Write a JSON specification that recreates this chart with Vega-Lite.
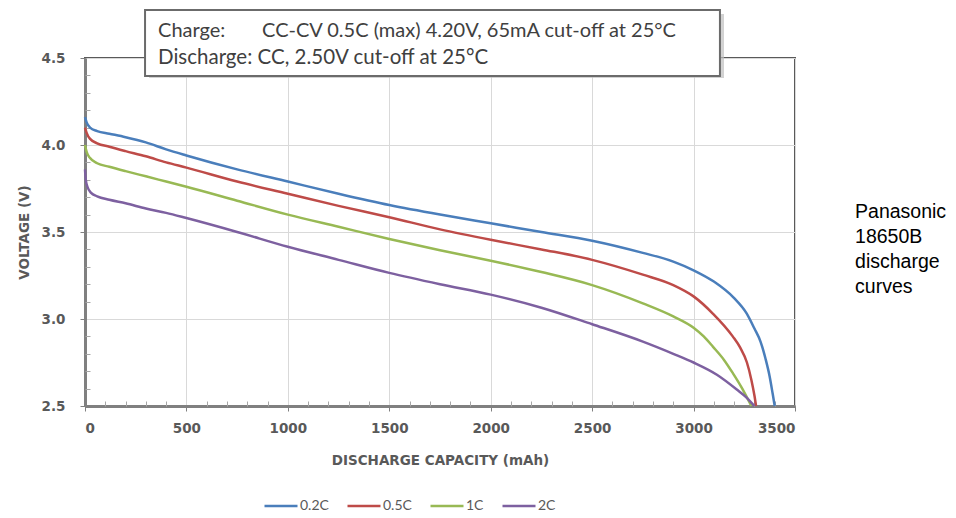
{
  "$schema": "https://vega.github.io/schema/vega-lite/v6.json",
  "width": 710,
  "height": 348,
  "autosize": {"type": "none"},
  "padding": {"left": 85, "top": 58, "right": 161, "bottom": 112},
  "background": "white",
  "config": {"view": {"stroke": "#595959", "strokeWidth": 2}, "font": "Lato"},
  "datasets": {
    "curves": [
      {"rate": "0.2C", "capacity": 0, "voltage": 4.16},
      {"rate": "0.2C", "capacity": 8, "voltage": 4.13},
      {"rate": "0.2C", "capacity": 25, "voltage": 4.1},
      {"rate": "0.2C", "capacity": 60, "voltage": 4.08},
      {"rate": "0.2C", "capacity": 120, "voltage": 4.065},
      {"rate": "0.2C", "capacity": 200, "voltage": 4.045},
      {"rate": "0.2C", "capacity": 300, "voltage": 4.015},
      {"rate": "0.2C", "capacity": 400, "voltage": 3.975},
      {"rate": "0.2C", "capacity": 500, "voltage": 3.94},
      {"rate": "0.2C", "capacity": 750, "voltage": 3.86},
      {"rate": "0.2C", "capacity": 1000, "voltage": 3.79},
      {"rate": "0.2C", "capacity": 1250, "voltage": 3.72},
      {"rate": "0.2C", "capacity": 1500, "voltage": 3.655},
      {"rate": "0.2C", "capacity": 1750, "voltage": 3.6},
      {"rate": "0.2C", "capacity": 2000, "voltage": 3.55},
      {"rate": "0.2C", "capacity": 2250, "voltage": 3.5},
      {"rate": "0.2C", "capacity": 2500, "voltage": 3.45},
      {"rate": "0.2C", "capacity": 2750, "voltage": 3.38},
      {"rate": "0.2C", "capacity": 2900, "voltage": 3.33},
      {"rate": "0.2C", "capacity": 3000, "voltage": 3.28},
      {"rate": "0.2C", "capacity": 3100, "voltage": 3.215},
      {"rate": "0.2C", "capacity": 3200, "voltage": 3.12},
      {"rate": "0.2C", "capacity": 3260, "voltage": 3.035},
      {"rate": "0.2C", "capacity": 3300, "voltage": 2.945},
      {"rate": "0.2C", "capacity": 3330, "voltage": 2.87},
      {"rate": "0.2C", "capacity": 3355, "voltage": 2.77},
      {"rate": "0.2C", "capacity": 3375, "voltage": 2.67},
      {"rate": "0.2C", "capacity": 3390, "voltage": 2.57},
      {"rate": "0.2C", "capacity": 3400, "voltage": 2.5},

      {"rate": "0.5C", "capacity": 0, "voltage": 4.1},
      {"rate": "0.5C", "capacity": 8, "voltage": 4.07},
      {"rate": "0.5C", "capacity": 25, "voltage": 4.035},
      {"rate": "0.5C", "capacity": 60, "voltage": 4.01},
      {"rate": "0.5C", "capacity": 120, "voltage": 3.99},
      {"rate": "0.5C", "capacity": 200, "voltage": 3.965},
      {"rate": "0.5C", "capacity": 300, "voltage": 3.935},
      {"rate": "0.5C", "capacity": 400, "voltage": 3.9},
      {"rate": "0.5C", "capacity": 500, "voltage": 3.87},
      {"rate": "0.5C", "capacity": 750, "voltage": 3.79},
      {"rate": "0.5C", "capacity": 1000, "voltage": 3.72},
      {"rate": "0.5C", "capacity": 1250, "voltage": 3.65},
      {"rate": "0.5C", "capacity": 1500, "voltage": 3.585},
      {"rate": "0.5C", "capacity": 1750, "voltage": 3.515},
      {"rate": "0.5C", "capacity": 2000, "voltage": 3.455},
      {"rate": "0.5C", "capacity": 2250, "voltage": 3.4},
      {"rate": "0.5C", "capacity": 2500, "voltage": 3.34},
      {"rate": "0.5C", "capacity": 2750, "voltage": 3.255},
      {"rate": "0.5C", "capacity": 2900, "voltage": 3.195},
      {"rate": "0.5C", "capacity": 3000, "voltage": 3.13},
      {"rate": "0.5C", "capacity": 3096, "voltage": 3.03},
      {"rate": "0.5C", "capacity": 3193, "voltage": 2.9},
      {"rate": "0.5C", "capacity": 3230, "voltage": 2.835},
      {"rate": "0.5C", "capacity": 3263, "voltage": 2.75},
      {"rate": "0.5C", "capacity": 3285, "voltage": 2.65},
      {"rate": "0.5C", "capacity": 3300, "voltage": 2.56},
      {"rate": "0.5C", "capacity": 3308, "voltage": 2.5},

      {"rate": "1C", "capacity": 0, "voltage": 4.0},
      {"rate": "1C", "capacity": 8, "voltage": 3.96},
      {"rate": "1C", "capacity": 25, "voltage": 3.925},
      {"rate": "1C", "capacity": 60, "voltage": 3.895},
      {"rate": "1C", "capacity": 120, "voltage": 3.875},
      {"rate": "1C", "capacity": 200, "voltage": 3.85},
      {"rate": "1C", "capacity": 300, "voltage": 3.82},
      {"rate": "1C", "capacity": 400, "voltage": 3.79},
      {"rate": "1C", "capacity": 500, "voltage": 3.76},
      {"rate": "1C", "capacity": 750, "voltage": 3.68},
      {"rate": "1C", "capacity": 1000, "voltage": 3.6},
      {"rate": "1C", "capacity": 1250, "voltage": 3.53},
      {"rate": "1C", "capacity": 1500, "voltage": 3.46},
      {"rate": "1C", "capacity": 1750, "voltage": 3.395},
      {"rate": "1C", "capacity": 2000, "voltage": 3.335},
      {"rate": "1C", "capacity": 2250, "voltage": 3.27},
      {"rate": "1C", "capacity": 2500, "voltage": 3.195},
      {"rate": "1C", "capacity": 2750, "voltage": 3.09},
      {"rate": "1C", "capacity": 2900, "voltage": 3.015},
      {"rate": "1C", "capacity": 3000, "voltage": 2.95},
      {"rate": "1C", "capacity": 3050, "voltage": 2.9},
      {"rate": "1C", "capacity": 3096, "voltage": 2.84},
      {"rate": "1C", "capacity": 3150, "voltage": 2.765},
      {"rate": "1C", "capacity": 3193, "voltage": 2.69},
      {"rate": "1C", "capacity": 3240, "voltage": 2.6},
      {"rate": "1C", "capacity": 3265, "voltage": 2.545},
      {"rate": "1C", "capacity": 3285, "voltage": 2.5},

      {"rate": "2C", "capacity": 0, "voltage": 3.86},
      {"rate": "2C", "capacity": 4, "voltage": 3.8},
      {"rate": "2C", "capacity": 12, "voltage": 3.76},
      {"rate": "2C", "capacity": 30, "voltage": 3.725},
      {"rate": "2C", "capacity": 60, "voltage": 3.705},
      {"rate": "2C", "capacity": 120, "voltage": 3.685},
      {"rate": "2C", "capacity": 200, "voltage": 3.665},
      {"rate": "2C", "capacity": 300, "voltage": 3.635},
      {"rate": "2C", "capacity": 400, "voltage": 3.61},
      {"rate": "2C", "capacity": 500, "voltage": 3.58},
      {"rate": "2C", "capacity": 750, "voltage": 3.5},
      {"rate": "2C", "capacity": 1000, "voltage": 3.415},
      {"rate": "2C", "capacity": 1250, "voltage": 3.34},
      {"rate": "2C", "capacity": 1500, "voltage": 3.265},
      {"rate": "2C", "capacity": 1750, "voltage": 3.2},
      {"rate": "2C", "capacity": 2000, "voltage": 3.14},
      {"rate": "2C", "capacity": 2250, "voltage": 3.065},
      {"rate": "2C", "capacity": 2500, "voltage": 2.97},
      {"rate": "2C", "capacity": 2750, "voltage": 2.87},
      {"rate": "2C", "capacity": 2900, "voltage": 2.8},
      {"rate": "2C", "capacity": 3000, "voltage": 2.75},
      {"rate": "2C", "capacity": 3115, "voltage": 2.68},
      {"rate": "2C", "capacity": 3213, "voltage": 2.595},
      {"rate": "2C", "capacity": 3260, "voltage": 2.55},
      {"rate": "2C", "capacity": 3300, "voltage": 2.5}
    ]
  },
  "resolve": {"axis": {"x": "independent", "y": "independent"}},
  "layer": [
    {
      "data": {"name": "curves"},
      "mark": {"type": "line", "strokeWidth": 2.5, "interpolate": "monotone"},
      "encoding": {
        "x": {
          "field": "capacity", "type": "quantitative",
          "scale": {"domain": [0, 3500], "nice": false},
          "axis": {
            "orient": "bottom",
            "title": "DISCHARGE CAPACITY (mAh)",
            "values": [0, 500, 1000, 1500, 2000, 2500, 3000, 3500],
            "format": "d",
            "grid": true, "gridColor": "#d9d9d9", "gridWidth": 1,
            "domainColor": "#808080", "domainWidth": 3,
            "tickColor": "#808080", "tickSize": 5, "tickWidth": 1,
            "labelFont": "DejaVu Sans", "labelFontWeight": "bold", "labelFontSize": 13.5,
            "labelColor": "#595959", "labelPadding": 10,
            "titleFont": "DejaVu Sans", "titleFontWeight": "bold", "titleFontSize": 13.5,
            "titleColor": "#595959", "titlePadding": 19
          }
        },
        "y": {
          "field": "voltage", "type": "quantitative",
          "scale": {"domain": [2.5, 4.5], "nice": false, "zero": false},
          "axis": {
            "orient": "left",
            "title": "VOLTAGE (V)",
            "values": [2.5, 3, 3.5, 4, 4.5],
            "format": ".1f",
            "grid": true, "gridColor": "#d9d9d9", "gridWidth": 1,
            "domainColor": "#808080", "domainWidth": 3,
            "tickColor": "#808080", "tickSize": 5, "tickWidth": 1,
            "labelFont": "DejaVu Sans", "labelFontWeight": "bold", "labelFontSize": 13.5,
            "labelColor": "#595959", "labelPadding": 15,
            "titleFont": "DejaVu Sans", "titleFontWeight": "bold", "titleFontSize": 13.5,
            "titleColor": "#595959", "titlePadding": 10
          }
        },
        "color": {
          "field": "rate", "type": "nominal",
          "scale": {"domain": ["0.2C", "0.5C", "1C", "2C"], "range": ["#4a7ebb", "#be4b48", "#98b954", "#7d60a0"]},
          "legend": {
            "orient": "none", "legendX": 178, "legendY": 430,
            "direction": "horizontal", "title": null,
            "symbolType": "stroke", "symbolSize": 1089, "symbolStrokeWidth": 2.5,
            "labelFont": "Lato", "labelFontSize": 14, "labelColor": "#595959",
            "labelOffset": 1, "columnPadding": 13
          }
        }
      }
    },
    {
      "data": {"name": "curves"},
      "mark": {"type": "line", "opacity": 0},
      "encoding": {
        "x": {
          "field": "capacity", "type": "quantitative",
          "axis": {
            "orient": "bottom", "title": null, "labels": false, "domain": false, "grid": false,
            "values": [100, 200, 300, 400, 600, 700, 800, 900, 1100, 1200, 1300, 1400, 1600, 1700, 1800, 1900, 2100, 2200, 2300, 2400, 2600, 2700, 2800, 2900, 3100, 3200, 3300, 3400],
            "tickSize": -5, "tickColor": "#a6a6a6", "tickWidth": 1
          }
        },
        "y": {
          "field": "voltage", "type": "quantitative",
          "axis": {
            "orient": "left", "title": null, "labels": false, "domain": false, "grid": false,
            "values": [2.6, 2.7, 2.8, 2.9, 3.1, 3.2, 3.3, 3.4, 3.6, 3.7, 3.8, 3.9, 4.1, 4.2, 4.3, 4.4],
            "tickSize": -5, "tickColor": "#a6a6a6", "tickWidth": 1
          }
        },
        "detail": {"field": "rate"}
      }
    },
    {
      "data": {"values": [{}]},
      "mark": {"type": "rect", "fill": "#bfbfbf", "opacity": 0.7},
      "encoding": {
        "x": {"datum": 316, "type": "quantitative", "axis": null},
        "x2": {"datum": 3150},
        "y": {"datum": 4.753, "type": "quantitative", "axis": null},
        "y2": {"datum": 4.385}
      }
    },
    {
      "data": {"values": [{}]},
      "mark": {"type": "rect", "fill": "white", "stroke": "#6b6b6b", "strokeWidth": 2},
      "encoding": {
        "x": {"datum": 296, "type": "quantitative", "axis": null},
        "x2": {"datum": 3130},
        "y": {"datum": 4.776, "type": "quantitative", "axis": null},
        "y2": {"datum": 4.397}
      }
    },
    {
      "data": {"values": [{}]},
      "mark": {"type": "text", "text": "Charge:", "align": "left", "baseline": "middle", "font": "Lato", "fontSize": 20, "color": "#404040"},
      "encoding": {
        "x": {"datum": 360, "type": "quantitative", "axis": null},
        "y": {"datum": 4.655, "type": "quantitative", "axis": null}
      }
    },
    {
      "data": {"values": [{}]},
      "mark": {"type": "text", "text": "CC-CV 0.5C (max) 4.20V, 65mA cut-off at 25°C", "align": "left", "baseline": "middle", "font": "Lato", "fontSize": 20, "color": "#404040"},
      "encoding": {
        "x": {"datum": 873, "type": "quantitative", "axis": null},
        "y": {"datum": 4.655, "type": "quantitative", "axis": null}
      }
    },
    {
      "data": {"values": [{}]},
      "mark": {"type": "text", "text": "Discharge: CC, 2.50V cut-off at 25°C", "align": "left", "baseline": "middle", "font": "Lato", "fontSize": 20.5, "color": "#404040"},
      "encoding": {
        "x": {"datum": 360, "type": "quantitative", "axis": null},
        "y": {"datum": 4.5, "type": "quantitative", "axis": null}
      }
    },
    {
      "data": {"values": [{}]},
      "mark": {"type": "text", "text": ["Panasonic", "18650B", "discharge", "curves"], "align": "left", "baseline": "top", "font": "Liberation Sans", "fontSize": 19.5, "lineHeight": 25, "color": "#000000"},
      "encoding": {
        "x": {"datum": 3796, "type": "quantitative", "axis": null},
        "y": {"datum": 3.665, "type": "quantitative", "axis": null}
      }
    }
  ]
}
